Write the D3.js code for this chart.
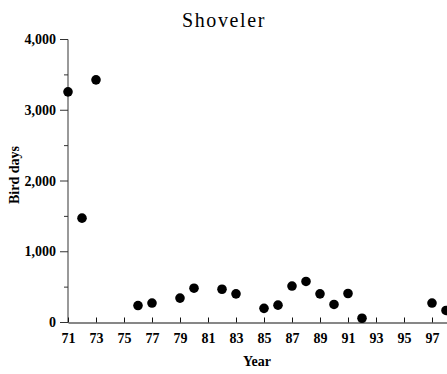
<!DOCTYPE html>
<html>
<head>
<meta charset="utf-8">
<script src="https://cdn.jsdelivr.net/npm/d3@7"></script>
<style>
  body { margin: 0; background: white; }
  svg { display: block; font-family: "Liberation Serif", "Times New Roman", serif; }
</style>
</head>
<body>
<svg></svg>
<script>
var years = [71, 72, 73, 76, 77, 79, 80, 82, 83, 85, 86, 87, 88, 89, 90, 91, 92, 97, 98];
var birdDays = [3260, 1475, 3430, 240, 275, 345, 485, 470, 405, 200, 245, 515, 580, 405, 255, 410, 60, 275, 170];
var xTicks = [71, 73, 75, 77, 79, 81, 83, 85, 87, 89, 91, 93, 95, 97];
var yMajor = [0, 1000, 2000, 3000, 4000];
var yMinor = [500, 1500, 2500, 3500];

var width = 447, height = 374;
var svg = d3.select('svg').attr('width', width).attr('height', height);

var x = d3.scaleLinear().domain([71, 99]).range([68, 460]);
var y = d3.scaleLinear().domain([0, 4000]).range([322.5, 39.5]);

svg.append('text')
  .attr('x', 224).attr('y', 27)
  .attr('text-anchor', 'middle')
  .style('font-size', '20px')
  .style('letter-spacing', '1.6px')
  .text('Shoveler');

// y axis (gray)
var yAxis = svg.append('g').attr('transform', 'translate(68,0)');
yAxis.append('line')
  .attr('y1', y(4000)).attr('y2', y(0))
  .attr('stroke', '#777').attr('stroke-width', 1.5);
yAxis.selectAll('.major').data(yMajor).enter().append('line')
  .attr('x1', -8).attr('x2', 0)
  .attr('y1', function(d) { return y(d) }).attr('y2', function(d) { return y(d) })
  .attr('stroke', '#333').attr('stroke-width', 1);
yAxis.selectAll('.minor').data(yMinor).enter().append('line')
  .attr('x1', -4).attr('x2', 0)
  .attr('y1', function(d) { return y(d) }).attr('y2', function(d) { return y(d) })
  .attr('stroke', '#333').attr('stroke-width', 1);
yAxis.selectAll('.lab').data(yMajor).enter().append('text')
  .attr('x', -12).attr('y', function(d) { return y(d) + 4.5 })
  .attr('text-anchor', 'end')
  .style('font-size', '14px').style('font-weight', 'bold')
  .text(function(d) { return d3.format(',')(d) });

// x axis
var bottomAxis = d3.axisBottom(x).tickValues(xTicks).tickSize(0).tickPadding(11).tickFormat(d3.format('d'));
var gx = svg.append('g')
  .attr('transform', 'translate(0,' + y(0) + ')')
  .call(bottomAxis);
gx.select('.domain').attr('stroke', '#111').attr('stroke-width', 1.2);
gx.selectAll('.tick text')
  .style('font-family', '"Liberation Serif", "Times New Roman", serif')
  .style('font-size', '14px').style('font-weight', 'bold').attr('fill', '#000');
gx.selectAll('.tick').append('line')
  .attr('y1', -5).attr('y2', 0).attr('stroke', '#111');

svg.append('text')
  .attr('x', 257).attr('y', 366)
  .attr('text-anchor', 'middle')
  .style('font-size', '14px').style('font-weight', 'bold')
  .text('Year');

svg.append('text')
  .attr('transform', 'translate(19,' + 175 + ') rotate(-90)')
  .attr('text-anchor', 'middle')
  .style('font-size', '14px').style('font-weight', 'bold')
  .text('Bird days');

svg.selectAll('.dot').data(years).enter().append('circle')
  .attr('cx', function(d) { return x(d) })
  .attr('cy', function(d, i) { return y(birdDays[i]) })
  .attr('r', 4.8)
  .attr('fill', 'black');
</script>
</body>
</html>
